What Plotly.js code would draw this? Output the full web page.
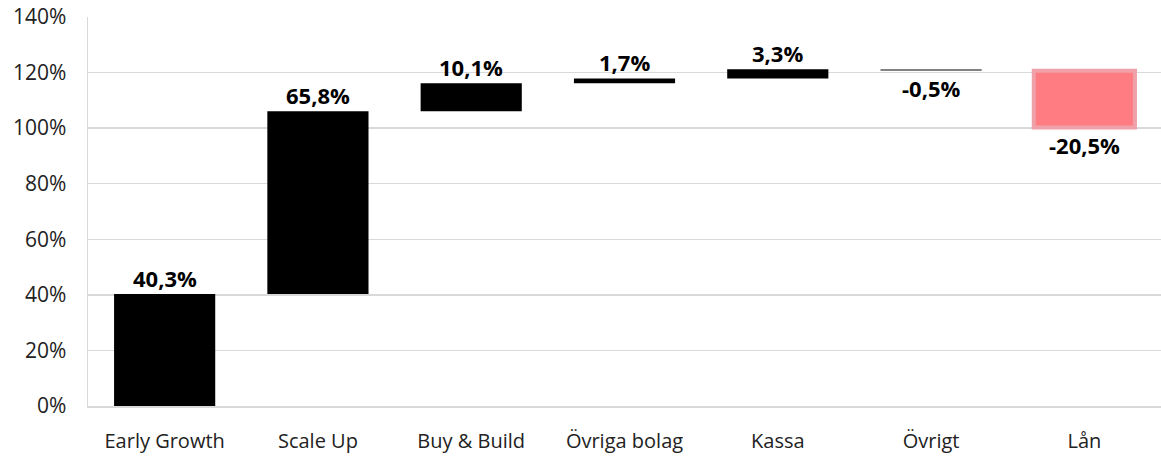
<!DOCTYPE html>
<html><head><meta charset="utf-8">
<script src="https://cdn.plot.ly/plotly-3.0.1.min.js"></script>
<style>html,body{margin:0;padding:0;background:#fff}</style>
</head><body><div id="chart" style="width:1161px;height:459px"></div>
<script>
const categories = ["Early Growth","Scale Up","Buy & Build","Övriga bolag","Kassa","Övrigt","Lån"];
const deltas = [40.3, 65.8, 10.1, 1.7, 3.3, -0.5, -20.5];
const labels = ["40,3%","65,8%","10,1%","1,7%","3,3%","-0,5%","-20,5%"];
const yTickVals = [0,20,40,60,80,100,120,140];
const yTickText = ["0%","20%","40%","60%","80%","100%","120%","140%"];
const fillColors = ["#000000","#000000","#000000","#000000","#000000","#595959","#ff7c82"];
const lineColors = ["#000000","#000000","#000000","#000000","#000000","#595959","#f0a0a8"];
const lineWidths = [0,0,0,0,0,0,4];

const bases = [];
let cum = 0;
deltas.forEach(d => { bases.push(cum); cum += d; });

const trace = {
  type: "bar", x: categories, y: deltas, base: bases,
  marker: {color: fillColors, line: {color: lineColors, width: lineWidths}},
  hoverinfo: "skip"
};
const annotations = categories.map((c, i) => {
  const end = bases[i] + deltas[i];
  const pos = deltas[i] >= 0;
  return {x: c, y: end, yref: "y", xref: "x", text: "<b>" + labels[i] + "</b>",
    showarrow: false, yanchor: pos ? "bottom" : "top", yshift: pos ? -1 : 0,
    font: {family: "Open Sans, sans-serif", size: 22, color: "#000"}};
});
const layout = {
  width: 1161, height: 459,
  margin: {l: 88, r: 0, t: 17, b: 53},
  paper_bgcolor: "#fff", plot_bgcolor: "#fff",
  showlegend: false, bargap: 0.34,
  font: {family: "Open Sans, sans-serif", color: "#222"},
  xaxis: {tickfont: {size: 20, color: "#222"}, showline: true, linecolor: "#d9d9d9", linewidth: 1.5,
    ticks: "", ticklabelstandoff: 16, fixedrange: true},
  yaxis: {range: [0, 140], tickmode: "array", tickvals: yTickVals, ticktext: yTickText,
    tickfont: {size: 21, color: "#222"}, gridcolor: "#d9d9d9", gridwidth: 1.5, zeroline: false,
    showline: true, linecolor: "#d9d9d9", linewidth: 1.5, ticks: "", ticklabelstandoff: 16, fixedrange: true},
  annotations: annotations
};
Plotly.newPlot("chart", [trace], layout, {displayModeBar: false, staticPlot: true});
</script></body></html>
